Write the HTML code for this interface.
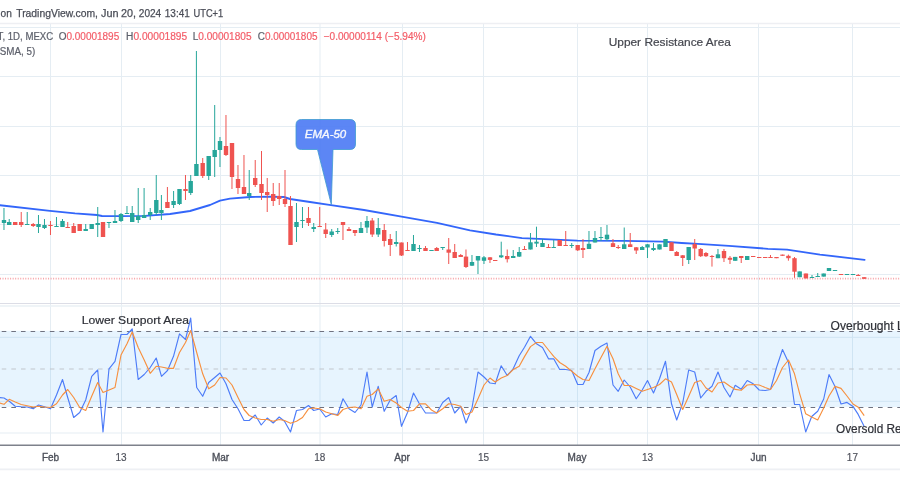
<!DOCTYPE html>
<html><head><meta charset="utf-8"><style>
html,body{margin:0;padding:0;background:#fff;}
body{width:900px;height:500px;overflow:hidden;position:relative;}
svg{position:absolute;left:0;top:0;will-change:transform;}
text{font-family:"Liberation Sans",sans-serif;}
.hdr{font-size:11px;fill:#4a4d57;stroke:#4a4d57;stroke-width:0.25;}
.lg{font-size:10px;fill:#5d606b;stroke:#5d606b;stroke-width:0.2;}
.rd{fill:#f35d68;stroke:#f35d68;}
.ax{font-size:10px;fill:#4d505a;stroke:#4d505a;stroke-width:0.15;}
.b{stroke-width:0.35;}
.note{font-size:11.5px;fill:#2f3138;stroke:#2f3138;stroke-width:0.2;}
.up{fill:#45474f;stroke:#45474f;}
</style></head><body>
<svg width="900" height="500" viewBox="0 0 900 500">
<line x1="50.5" y1="23" x2="50.5" y2="445" stroke="#e5edf3" stroke-width="1"/>
<line x1="121.5" y1="23" x2="121.5" y2="445" stroke="#e5edf3" stroke-width="1"/>
<line x1="220.5" y1="23" x2="220.5" y2="445" stroke="#e5edf3" stroke-width="1"/>
<line x1="320" y1="23" x2="320" y2="445" stroke="#e5edf3" stroke-width="1"/>
<line x1="402.5" y1="23" x2="402.5" y2="445" stroke="#e5edf3" stroke-width="1"/>
<line x1="483.5" y1="23" x2="483.5" y2="445" stroke="#e5edf3" stroke-width="1"/>
<line x1="577.5" y1="23" x2="577.5" y2="445" stroke="#e5edf3" stroke-width="1"/>
<line x1="647.5" y1="23" x2="647.5" y2="445" stroke="#e5edf3" stroke-width="1"/>
<line x1="758.5" y1="23" x2="758.5" y2="445" stroke="#e5edf3" stroke-width="1"/>
<line x1="852.5" y1="23" x2="852.5" y2="445" stroke="#e5edf3" stroke-width="1"/>
<line x1="0" y1="27.5" x2="900" y2="27.5" stroke="#e5edf3" stroke-width="1"/>
<line x1="0" y1="76.5" x2="900" y2="76.5" stroke="#e5edf3" stroke-width="1"/>
<line x1="0" y1="126.5" x2="900" y2="126.5" stroke="#e5edf3" stroke-width="1"/>
<line x1="0" y1="175.5" x2="900" y2="175.5" stroke="#e5edf3" stroke-width="1"/>
<line x1="0" y1="224.5" x2="900" y2="224.5" stroke="#e5edf3" stroke-width="1"/>
<line x1="0" y1="274.5" x2="900" y2="274.5" stroke="#e5edf3" stroke-width="1"/>
<line x1="0" y1="337.3" x2="900" y2="337.3" stroke="#e5edf3" stroke-width="1"/>
<line x1="0" y1="401.3" x2="900" y2="401.3" stroke="#e5edf3" stroke-width="1"/>
<line x1="0" y1="433.0" x2="900" y2="433.0" stroke="#e5edf3" stroke-width="1"/>
<rect x="0" y="330.8" width="900" height="76.2" fill="rgb(33,150,243)" fill-opacity="0.105"/>
<line x1="0" y1="306.1" x2="900" y2="306.1" stroke="#eaf0f5" stroke-width="1.5"/>
<line x1="0" y1="23.5" x2="900" y2="23.5" stroke="#eeeff3" stroke-width="1.7"/>
<line x1="0" y1="303.5" x2="900" y2="303.5" stroke="#dcdde6" stroke-width="1"/>
<line x1="0" y1="278.6" x2="900" y2="278.6" stroke="#f6a3a8" stroke-width="1.6" stroke-dasharray="1 1.53"/>
<polyline points="0.0,205.2 50.0,210.8 75.0,213.3 97.0,215.0 102.0,216.0 120.0,216.2 145.0,215.8 170.0,214.0 190.0,211.0 210.0,205.0 220.0,200.6 230.0,198.6 250.0,197.0 270.0,196.6 284.0,197.0 290.0,199.0 310.0,202.0 331.0,205.2 364.0,210.0 403.0,216.8 437.0,222.8 470.0,230.3 496.0,234.5 522.0,238.1 550.0,239.3 577.5,240.6 625.0,240.9 663.5,241.7 681.7,243.0 698.0,243.9 729.0,245.8 768.0,248.8 787.0,249.7 820.0,254.6 864.6,259.8" fill="none" stroke="#3366fa" stroke-width="1.85" stroke-linejoin="round" stroke-linecap="round"/>
<line x1="3.975" y1="208.0" x2="3.975" y2="230.0" stroke="#26a69a" stroke-width="1"/>
<rect x="1.8" y="220.0" width="4.4" height="3.0" fill="#26a69a"/>
<line x1="9.225" y1="219.0" x2="9.225" y2="225.0" stroke="#26a69a" stroke-width="1"/>
<rect x="7.0" y="222.0" width="4.4" height="3.0" fill="#26a69a"/>
<line x1="15.225" y1="222.0" x2="15.225" y2="225.0" stroke="#ef5350" stroke-width="1"/>
<rect x="13.0" y="222.0" width="4.4" height="3.0" fill="#ef5350"/>
<line x1="21.225" y1="212.0" x2="21.225" y2="227.0" stroke="#ef5350" stroke-width="1"/>
<rect x="19.0" y="222.0" width="4.4" height="3.0" fill="#ef5350"/>
<line x1="27.225" y1="212.0" x2="27.225" y2="225.0" stroke="#26a69a" stroke-width="1"/>
<rect x="25.0" y="224.0" width="4.4" height="1.0" fill="#26a69a"/>
<line x1="33.225" y1="223.0" x2="33.225" y2="227.0" stroke="#ef5350" stroke-width="1"/>
<rect x="31.0" y="224.0" width="4.4" height="2.0" fill="#ef5350"/>
<line x1="38.475" y1="215.0" x2="38.475" y2="233.0" stroke="#26a69a" stroke-width="1"/>
<rect x="36.3" y="224.0" width="4.4" height="3.0" fill="#26a69a"/>
<line x1="44.475" y1="219.0" x2="44.475" y2="229.0" stroke="#26a69a" stroke-width="1"/>
<rect x="42.3" y="225.0" width="4.4" height="3.0" fill="#26a69a"/>
<line x1="50.475" y1="221.0" x2="50.475" y2="235.0" stroke="#ef5350" stroke-width="1"/>
<rect x="48.3" y="225.0" width="4.4" height="1.0" fill="#ef5350"/>
<line x1="56.475" y1="217.0" x2="56.475" y2="227.0" stroke="#26a69a" stroke-width="1"/>
<rect x="54.3" y="226.0" width="4.4" height="1.0" fill="#26a69a"/>
<line x1="62.475" y1="219.0" x2="62.475" y2="227.0" stroke="#26a69a" stroke-width="1"/>
<rect x="60.3" y="221.0" width="4.4" height="6.0" fill="#26a69a"/>
<line x1="67.725" y1="222.0" x2="67.725" y2="228.0" stroke="#ef5350" stroke-width="1"/>
<rect x="65.5" y="227.0" width="4.4" height="1.0" fill="#ef5350"/>
<line x1="73.725" y1="223.0" x2="73.725" y2="233.0" stroke="#ef5350" stroke-width="1"/>
<rect x="71.5" y="226.0" width="4.4" height="7.0" fill="#ef5350"/>
<line x1="79.725" y1="224.0" x2="79.725" y2="231.0" stroke="#ef5350" stroke-width="1"/>
<rect x="77.5" y="224.0" width="4.4" height="7.0" fill="#ef5350"/>
<line x1="85.725" y1="224.0" x2="85.725" y2="231.0" stroke="#26a69a" stroke-width="1"/>
<rect x="83.5" y="229.0" width="4.4" height="2.0" fill="#26a69a"/>
<line x1="91.725" y1="224.0" x2="91.725" y2="229.0" stroke="#26a69a" stroke-width="1"/>
<rect x="89.5" y="224.0" width="4.4" height="5.0" fill="#26a69a"/>
<line x1="97.725" y1="207.0" x2="97.725" y2="237.0" stroke="#26a69a" stroke-width="1"/>
<rect x="95.5" y="223.0" width="4.4" height="2.0" fill="#26a69a"/>
<line x1="102.975" y1="222.0" x2="102.975" y2="237.0" stroke="#ef5350" stroke-width="1"/>
<rect x="100.8" y="222.0" width="4.4" height="15.0" fill="#ef5350"/>
<line x1="108.975" y1="222.0" x2="108.975" y2="228.0" stroke="#26a69a" stroke-width="1"/>
<rect x="106.8" y="222.0" width="4.4" height="1.0" fill="#26a69a"/>
<line x1="114.975" y1="210.0" x2="114.975" y2="222.0" stroke="#26a69a" stroke-width="1"/>
<rect x="112.8" y="221.0" width="4.4" height="2.0" fill="#26a69a"/>
<line x1="120.975" y1="213.0" x2="120.975" y2="222.0" stroke="#26a69a" stroke-width="1"/>
<rect x="118.8" y="214.0" width="4.4" height="7.0" fill="#26a69a"/>
<line x1="126.975" y1="206.0" x2="126.975" y2="214.0" stroke="#26a69a" stroke-width="1"/>
<rect x="124.8" y="213.0" width="4.4" height="1.0" fill="#26a69a"/>
<line x1="132.225" y1="206.0" x2="132.225" y2="222.0" stroke="#26a69a" stroke-width="1"/>
<rect x="130.0" y="213.0" width="4.4" height="9.0" fill="#26a69a"/>
<line x1="138.225" y1="188.0" x2="138.225" y2="223.0" stroke="#26a69a" stroke-width="1"/>
<rect x="136.0" y="216.0" width="4.4" height="4.0" fill="#26a69a"/>
<line x1="144.1" y1="188.0" x2="144.1" y2="218.0" stroke="#26a69a" stroke-width="1"/>
<rect x="141.9" y="215.0" width="4.4" height="3.0" fill="#26a69a"/>
<line x1="150.225" y1="208.0" x2="150.225" y2="220.0" stroke="#26a69a" stroke-width="1"/>
<rect x="148.0" y="212.0" width="4.4" height="3.0" fill="#26a69a"/>
<line x1="156.25" y1="175.0" x2="156.25" y2="215.0" stroke="#26a69a" stroke-width="1"/>
<rect x="154.1" y="200.0" width="4.4" height="13.0" fill="#26a69a"/>
<line x1="161.4" y1="195.0" x2="161.4" y2="220.0" stroke="#26a69a" stroke-width="1"/>
<rect x="159.2" y="210.0" width="4.4" height="3.0" fill="#26a69a"/>
<line x1="167.4" y1="187.0" x2="167.4" y2="208.0" stroke="#ef5350" stroke-width="1"/>
<rect x="165.2" y="202.0" width="4.4" height="6.0" fill="#ef5350"/>
<line x1="173.6" y1="191.0" x2="173.6" y2="208.0" stroke="#26a69a" stroke-width="1"/>
<rect x="171.4" y="201.0" width="4.4" height="4.0" fill="#26a69a"/>
<line x1="179.475" y1="189.0" x2="179.475" y2="205.0" stroke="#26a69a" stroke-width="1"/>
<rect x="177.3" y="189.0" width="4.4" height="15.0" fill="#26a69a"/>
<line x1="185.475" y1="175.0" x2="185.475" y2="200.0" stroke="#ef5350" stroke-width="1"/>
<rect x="183.3" y="189.0" width="4.4" height="2.0" fill="#ef5350"/>
<line x1="190.725" y1="175.0" x2="190.725" y2="195.0" stroke="#26a69a" stroke-width="1"/>
<rect x="188.5" y="181.0" width="4.4" height="12.0" fill="#26a69a"/>
<line x1="196.4" y1="51.0" x2="196.4" y2="176.0" stroke="#26a69a" stroke-width="1"/>
<rect x="194.2" y="164.0" width="4.4" height="12.0" fill="#26a69a"/>
<line x1="202.725" y1="158.0" x2="202.725" y2="178.0" stroke="#ef5350" stroke-width="1"/>
<rect x="200.5" y="163.0" width="4.4" height="13.0" fill="#ef5350"/>
<line x1="208.725" y1="156.0" x2="208.725" y2="180.0" stroke="#26a69a" stroke-width="1"/>
<rect x="206.5" y="156.0" width="4.4" height="20.0" fill="#26a69a"/>
<line x1="214.7" y1="105.0" x2="214.7" y2="177.0" stroke="#26a69a" stroke-width="1"/>
<rect x="212.5" y="150.0" width="4.4" height="7.0" fill="#26a69a"/>
<line x1="219.975" y1="137.0" x2="219.975" y2="167.0" stroke="#26a69a" stroke-width="1"/>
<rect x="217.8" y="141.0" width="4.4" height="9.0" fill="#26a69a"/>
<line x1="225.975" y1="115.0" x2="225.975" y2="156.0" stroke="#ef5350" stroke-width="1"/>
<rect x="223.8" y="146.0" width="4.4" height="9.0" fill="#ef5350"/>
<line x1="231.975" y1="143.0" x2="231.975" y2="189.0" stroke="#ef5350" stroke-width="1"/>
<rect x="229.8" y="143.0" width="4.4" height="34.0" fill="#ef5350"/>
<line x1="237.975" y1="165.0" x2="237.975" y2="194.0" stroke="#ef5350" stroke-width="1"/>
<rect x="235.8" y="179.0" width="4.4" height="9.0" fill="#ef5350"/>
<line x1="243.975" y1="155.0" x2="243.975" y2="194.0" stroke="#ef5350" stroke-width="1"/>
<rect x="241.8" y="187.0" width="4.4" height="7.0" fill="#ef5350"/>
<line x1="249.225" y1="170.0" x2="249.225" y2="200.0" stroke="#26a69a" stroke-width="1"/>
<rect x="247.0" y="193.0" width="4.4" height="3.0" fill="#26a69a"/>
<line x1="255.225" y1="160.0" x2="255.225" y2="187.0" stroke="#ef5350" stroke-width="1"/>
<rect x="253.0" y="178.0" width="4.4" height="7.0" fill="#ef5350"/>
<line x1="261.5" y1="151.0" x2="261.5" y2="200.0" stroke="#ef5350" stroke-width="1"/>
<rect x="259.3" y="184.0" width="4.4" height="9.0" fill="#ef5350"/>
<line x1="267.225" y1="178.0" x2="267.225" y2="212.0" stroke="#ef5350" stroke-width="1"/>
<rect x="265.0" y="192.0" width="4.4" height="3.0" fill="#ef5350"/>
<line x1="273.225" y1="183.0" x2="273.225" y2="206.0" stroke="#ef5350" stroke-width="1"/>
<rect x="271.0" y="194.0" width="4.4" height="7.0" fill="#ef5350"/>
<line x1="279.225" y1="183.0" x2="279.225" y2="205.0" stroke="#ef5350" stroke-width="1"/>
<rect x="277.0" y="196.0" width="4.4" height="3.0" fill="#ef5350"/>
<line x1="285.0" y1="170.0" x2="285.0" y2="207.0" stroke="#ef5350" stroke-width="1"/>
<rect x="282.8" y="199.0" width="4.4" height="5.0" fill="#ef5350"/>
<line x1="290.475" y1="196.0" x2="290.475" y2="245.0" stroke="#ef5350" stroke-width="1"/>
<rect x="288.3" y="206.0" width="4.4" height="39.0" fill="#ef5350"/>
<line x1="296.475" y1="203.0" x2="296.475" y2="242.0" stroke="#26a69a" stroke-width="1"/>
<rect x="294.3" y="222.0" width="4.4" height="5.0" fill="#26a69a"/>
<line x1="302.475" y1="207.0" x2="302.475" y2="228.0" stroke="#26a69a" stroke-width="1"/>
<rect x="300.3" y="220.0" width="4.4" height="1.0" fill="#26a69a"/>
<line x1="308.475" y1="207.0" x2="308.475" y2="226.0" stroke="#ef5350" stroke-width="1"/>
<rect x="306.3" y="218.0" width="4.4" height="5.0" fill="#ef5350"/>
<line x1="313.725" y1="223.0" x2="313.725" y2="232.0" stroke="#26a69a" stroke-width="1"/>
<rect x="311.5" y="227.0" width="4.4" height="2.0" fill="#26a69a"/>
<line x1="319.725" y1="207.0" x2="319.725" y2="226.0" stroke="#ef5350" stroke-width="1"/>
<rect x="317.5" y="226.0" width="4.4" height="1.0" fill="#ef5350"/>
<line x1="325.725" y1="223.0" x2="325.725" y2="238.0" stroke="#ef5350" stroke-width="1"/>
<rect x="323.5" y="229.5" width="4.4" height="4.5" fill="#ef5350"/>
<line x1="331.725" y1="229.0" x2="331.725" y2="237.0" stroke="#26a69a" stroke-width="1"/>
<rect x="329.5" y="231.5" width="4.4" height="3.5" fill="#26a69a"/>
<line x1="337.725" y1="228.0" x2="337.725" y2="234.0" stroke="#26a69a" stroke-width="1"/>
<rect x="335.5" y="231.0" width="4.4" height="1.0" fill="#26a69a"/>
<line x1="342.975" y1="222.0" x2="342.975" y2="240.0" stroke="#ef5350" stroke-width="1"/>
<rect x="340.8" y="222.0" width="4.4" height="3.0" fill="#ef5350"/>
<line x1="348.975" y1="227.0" x2="348.975" y2="231.0" stroke="#ef5350" stroke-width="1"/>
<rect x="346.8" y="229.0" width="4.4" height="2.0" fill="#ef5350"/>
<line x1="354.975" y1="230.0" x2="354.975" y2="236.0" stroke="#ef5350" stroke-width="1"/>
<rect x="352.8" y="230.0" width="4.4" height="3.0" fill="#ef5350"/>
<line x1="360.975" y1="222.0" x2="360.975" y2="233.0" stroke="#26a69a" stroke-width="1"/>
<rect x="358.8" y="228.0" width="4.4" height="5.0" fill="#26a69a"/>
<line x1="366.975" y1="216.0" x2="366.975" y2="233.0" stroke="#26a69a" stroke-width="1"/>
<rect x="364.8" y="221.0" width="4.4" height="6.5" fill="#26a69a"/>
<line x1="372.225" y1="218.0" x2="372.225" y2="237.0" stroke="#ef5350" stroke-width="1"/>
<rect x="370.0" y="220.5" width="4.4" height="14.0" fill="#ef5350"/>
<line x1="378.225" y1="218.0" x2="378.225" y2="237.0" stroke="#26a69a" stroke-width="1"/>
<rect x="376.0" y="228.0" width="4.4" height="6.5" fill="#26a69a"/>
<line x1="384.225" y1="224.0" x2="384.225" y2="246.5" stroke="#ef5350" stroke-width="1"/>
<rect x="382.0" y="230.0" width="4.4" height="11.0" fill="#ef5350"/>
<line x1="390.225" y1="234.0" x2="390.225" y2="256.0" stroke="#ef5350" stroke-width="1"/>
<rect x="388.0" y="239.0" width="4.4" height="6.0" fill="#ef5350"/>
<line x1="396.225" y1="231.0" x2="396.225" y2="246.5" stroke="#26a69a" stroke-width="1"/>
<rect x="394.0" y="242.0" width="4.4" height="2.0" fill="#26a69a"/>
<line x1="401.475" y1="242.5" x2="401.475" y2="256.0" stroke="#ef5350" stroke-width="1"/>
<rect x="399.3" y="242.5" width="4.4" height="13.0" fill="#ef5350"/>
<line x1="407.475" y1="242.0" x2="407.475" y2="251.0" stroke="#ef5350" stroke-width="1"/>
<rect x="405.3" y="250.0" width="4.4" height="1.0" fill="#ef5350"/>
<line x1="413.475" y1="235.0" x2="413.475" y2="251.0" stroke="#26a69a" stroke-width="1"/>
<rect x="411.3" y="244.0" width="4.4" height="7.0" fill="#26a69a"/>
<line x1="419.475" y1="245.0" x2="419.475" y2="252.0" stroke="#26a69a" stroke-width="1"/>
<rect x="417.3" y="248.0" width="4.4" height="1.0" fill="#26a69a"/>
<line x1="425.475" y1="246.0" x2="425.475" y2="251.0" stroke="#ef5350" stroke-width="1"/>
<rect x="423.3" y="248.0" width="4.4" height="3.0" fill="#ef5350"/>
<line x1="431.475" y1="250.0" x2="431.475" y2="251.0" stroke="#26a69a" stroke-width="1"/>
<rect x="429.3" y="250.0" width="4.4" height="1.0" fill="#26a69a"/>
<line x1="436.725" y1="247.0" x2="436.725" y2="251.0" stroke="#ef5350" stroke-width="1"/>
<rect x="434.5" y="248.0" width="4.4" height="3.0" fill="#ef5350"/>
<line x1="442.725" y1="247.0" x2="442.725" y2="250.0" stroke="#26a69a" stroke-width="1"/>
<rect x="440.5" y="247.0" width="4.4" height="1.0" fill="#26a69a"/>
<line x1="448.725" y1="238.0" x2="448.725" y2="264.0" stroke="#ef5350" stroke-width="1"/>
<rect x="446.5" y="249.5" width="4.4" height="3.2" fill="#ef5350"/>
<line x1="454.725" y1="244.0" x2="454.725" y2="258.0" stroke="#ef5350" stroke-width="1"/>
<rect x="452.5" y="252.0" width="4.4" height="6.0" fill="#ef5350"/>
<line x1="460.725" y1="254.0" x2="460.725" y2="257.0" stroke="#ef5350" stroke-width="1"/>
<rect x="458.5" y="255.0" width="4.4" height="2.0" fill="#ef5350"/>
<line x1="465.975" y1="249.5" x2="465.975" y2="268.0" stroke="#ef5350" stroke-width="1"/>
<rect x="463.8" y="256.6" width="4.4" height="10.4" fill="#ef5350"/>
<line x1="471.975" y1="255.0" x2="471.975" y2="266.0" stroke="#26a69a" stroke-width="1"/>
<rect x="469.8" y="262.0" width="4.4" height="3.7" fill="#26a69a"/>
<line x1="477.975" y1="256.0" x2="477.975" y2="274.0" stroke="#26a69a" stroke-width="1"/>
<rect x="475.8" y="256.0" width="4.4" height="4.5" fill="#26a69a"/>
<line x1="483.975" y1="256.0" x2="483.975" y2="264.0" stroke="#26a69a" stroke-width="1"/>
<rect x="481.8" y="257.3" width="4.4" height="3.5" fill="#26a69a"/>
<line x1="489.975" y1="257.0" x2="489.975" y2="263.0" stroke="#ef5350" stroke-width="1"/>
<rect x="487.8" y="257.3" width="4.4" height="2.6" fill="#ef5350"/>
<line x1="495.225" y1="260.0" x2="495.225" y2="261.0" stroke="#ef5350" stroke-width="1"/>
<rect x="493.0" y="260.0" width="4.4" height="1.0" fill="#ef5350"/>
<line x1="501.225" y1="241.7" x2="501.225" y2="258.0" stroke="#26a69a" stroke-width="1"/>
<rect x="499.0" y="255.3" width="4.4" height="2.0" fill="#26a69a"/>
<line x1="507.225" y1="249.5" x2="507.225" y2="262.5" stroke="#ef5350" stroke-width="1"/>
<rect x="505.0" y="256.0" width="4.4" height="3.2" fill="#ef5350"/>
<line x1="513.225" y1="250.0" x2="513.225" y2="258.0" stroke="#26a69a" stroke-width="1"/>
<rect x="511.0" y="256.0" width="4.4" height="2.0" fill="#26a69a"/>
<line x1="519.225" y1="247.0" x2="519.225" y2="257.0" stroke="#26a69a" stroke-width="1"/>
<rect x="517.0" y="252.0" width="4.4" height="4.6" fill="#26a69a"/>
<line x1="524.475" y1="246.0" x2="524.475" y2="250.0" stroke="#ef5350" stroke-width="1"/>
<rect x="522.3" y="249.0" width="4.4" height="1.0" fill="#ef5350"/>
<line x1="530.475" y1="233.0" x2="530.475" y2="249.5" stroke="#26a69a" stroke-width="1"/>
<rect x="528.3" y="242.3" width="4.4" height="7.2" fill="#26a69a"/>
<line x1="536.475" y1="226.7" x2="536.475" y2="247.0" stroke="#26a69a" stroke-width="1"/>
<rect x="534.3" y="241.7" width="4.4" height="1.9" fill="#26a69a"/>
<line x1="542.475" y1="239.0" x2="542.475" y2="247.0" stroke="#26a69a" stroke-width="1"/>
<rect x="540.3" y="243.0" width="4.4" height="4.0" fill="#26a69a"/>
<line x1="548.475" y1="244.0" x2="548.475" y2="248.0" stroke="#ef5350" stroke-width="1"/>
<rect x="546.3" y="247.0" width="4.4" height="1.0" fill="#ef5350"/>
<line x1="553.725" y1="240.0" x2="553.725" y2="248.0" stroke="#26a69a" stroke-width="1"/>
<rect x="551.5" y="247.0" width="4.4" height="1.0" fill="#26a69a"/>
<line x1="559.725" y1="240.0" x2="559.725" y2="246.0" stroke="#ef5350" stroke-width="1"/>
<rect x="557.5" y="240.0" width="4.4" height="6.0" fill="#ef5350"/>
<line x1="565.725" y1="231.0" x2="565.725" y2="246.0" stroke="#ef5350" stroke-width="1"/>
<rect x="563.5" y="245.0" width="4.4" height="1.0" fill="#ef5350"/>
<line x1="571.725" y1="243.0" x2="571.725" y2="248.0" stroke="#26a69a" stroke-width="1"/>
<rect x="569.5" y="245.0" width="4.4" height="1.0" fill="#26a69a"/>
<line x1="577.725" y1="245.0" x2="577.725" y2="251.0" stroke="#ef5350" stroke-width="1"/>
<rect x="575.5" y="245.0" width="4.4" height="5.3" fill="#ef5350"/>
<line x1="582.975" y1="239.0" x2="582.975" y2="258.0" stroke="#ef5350" stroke-width="1"/>
<rect x="580.8" y="248.0" width="4.4" height="2.0" fill="#ef5350"/>
<line x1="588.975" y1="231.0" x2="588.975" y2="249.0" stroke="#26a69a" stroke-width="1"/>
<rect x="586.8" y="243.8" width="4.4" height="5.2" fill="#26a69a"/>
<line x1="594.975" y1="231.0" x2="594.975" y2="242.5" stroke="#26a69a" stroke-width="1"/>
<rect x="592.8" y="238.0" width="4.4" height="4.5" fill="#26a69a"/>
<line x1="600.975" y1="227.0" x2="600.975" y2="241.0" stroke="#26a69a" stroke-width="1"/>
<rect x="598.8" y="237.0" width="4.4" height="1.0" fill="#26a69a"/>
<line x1="606.975" y1="225.0" x2="606.975" y2="241.0" stroke="#26a69a" stroke-width="1"/>
<rect x="604.8" y="234.7" width="4.4" height="4.6" fill="#26a69a"/>
<line x1="612.975" y1="239.0" x2="612.975" y2="247.0" stroke="#ef5350" stroke-width="1"/>
<rect x="610.8" y="243.2" width="4.4" height="3.8" fill="#ef5350"/>
<line x1="618.225" y1="245.0" x2="618.225" y2="249.0" stroke="#ef5350" stroke-width="1"/>
<rect x="616.0" y="247.0" width="4.4" height="1.0" fill="#ef5350"/>
<line x1="624.225" y1="227.5" x2="624.225" y2="249.0" stroke="#26a69a" stroke-width="1"/>
<rect x="622.0" y="244.3" width="4.4" height="4.7" fill="#26a69a"/>
<line x1="630.225" y1="233.0" x2="630.225" y2="247.0" stroke="#ef5350" stroke-width="1"/>
<rect x="628.0" y="244.3" width="4.4" height="2.7" fill="#ef5350"/>
<line x1="636.225" y1="247.0" x2="636.225" y2="254.0" stroke="#ef5350" stroke-width="1"/>
<rect x="634.0" y="247.3" width="4.4" height="3.2" fill="#ef5350"/>
<line x1="642.225" y1="246.0" x2="642.225" y2="250.0" stroke="#26a69a" stroke-width="1"/>
<rect x="640.0" y="247.0" width="4.4" height="3.0" fill="#26a69a"/>
<line x1="647.475" y1="244.0" x2="647.475" y2="258.0" stroke="#26a69a" stroke-width="1"/>
<rect x="645.3" y="244.3" width="4.4" height="3.2" fill="#26a69a"/>
<line x1="653.475" y1="243.0" x2="653.475" y2="251.0" stroke="#26a69a" stroke-width="1"/>
<rect x="651.3" y="248.0" width="4.4" height="2.0" fill="#26a69a"/>
<line x1="659.475" y1="244.3" x2="659.475" y2="249.5" stroke="#26a69a" stroke-width="1"/>
<rect x="657.3" y="244.3" width="4.4" height="5.2" fill="#26a69a"/>
<line x1="665.475" y1="239.0" x2="665.475" y2="247.0" stroke="#26a69a" stroke-width="1"/>
<rect x="663.3" y="239.0" width="4.4" height="8.0" fill="#26a69a"/>
<line x1="671.475" y1="242.3" x2="671.475" y2="251.0" stroke="#ef5350" stroke-width="1"/>
<rect x="669.3" y="242.3" width="4.4" height="8.7" fill="#ef5350"/>
<line x1="676.725" y1="251.0" x2="676.725" y2="256.0" stroke="#ef5350" stroke-width="1"/>
<rect x="674.5" y="252.0" width="4.4" height="4.0" fill="#ef5350"/>
<line x1="682.725" y1="255.0" x2="682.725" y2="266.0" stroke="#ef5350" stroke-width="1"/>
<rect x="680.5" y="255.3" width="4.4" height="2.7" fill="#ef5350"/>
<line x1="688.725" y1="247.0" x2="688.725" y2="264.0" stroke="#26a69a" stroke-width="1"/>
<rect x="686.5" y="247.0" width="4.4" height="13.0" fill="#26a69a"/>
<line x1="694.725" y1="239.0" x2="694.725" y2="260.0" stroke="#ef5350" stroke-width="1"/>
<rect x="692.5" y="244.0" width="4.4" height="4.5" fill="#ef5350"/>
<line x1="700.725" y1="248.0" x2="700.725" y2="257.0" stroke="#ef5350" stroke-width="1"/>
<rect x="698.5" y="249.0" width="4.4" height="7.2" fill="#ef5350"/>
<line x1="705.975" y1="252.0" x2="705.975" y2="257.0" stroke="#ef5350" stroke-width="1"/>
<rect x="703.8" y="253.0" width="4.4" height="3.2" fill="#ef5350"/>
<line x1="711.975" y1="255.0" x2="711.975" y2="266.6" stroke="#ef5350" stroke-width="1"/>
<rect x="709.8" y="256.0" width="4.4" height="1.0" fill="#ef5350"/>
<line x1="717.975" y1="249.0" x2="717.975" y2="258.2" stroke="#26a69a" stroke-width="1"/>
<rect x="715.8" y="254.3" width="4.4" height="3.9" fill="#26a69a"/>
<line x1="723.975" y1="249.0" x2="723.975" y2="262.0" stroke="#ef5350" stroke-width="1"/>
<rect x="721.8" y="251.0" width="4.4" height="7.2" fill="#ef5350"/>
<line x1="729.975" y1="256.0" x2="729.975" y2="264.0" stroke="#ef5350" stroke-width="1"/>
<rect x="727.8" y="257.8" width="4.4" height="2.0" fill="#ef5350"/>
<line x1="735.225" y1="256.9" x2="735.225" y2="260.8" stroke="#26a69a" stroke-width="1"/>
<rect x="733.0" y="256.9" width="4.4" height="3.9" fill="#26a69a"/>
<line x1="741.225" y1="256.0" x2="741.225" y2="263.0" stroke="#ef5350" stroke-width="1"/>
<rect x="739.0" y="256.0" width="4.4" height="2.0" fill="#ef5350"/>
<line x1="747.225" y1="256.0" x2="747.225" y2="260.0" stroke="#26a69a" stroke-width="1"/>
<rect x="745.0" y="256.0" width="4.4" height="4.0" fill="#26a69a"/>
<line x1="753.225" y1="256.0" x2="753.225" y2="257.0" stroke="#ef5350" stroke-width="1"/>
<rect x="751.0" y="256.0" width="4.4" height="1.0" fill="#ef5350"/>
<line x1="759.225" y1="257.0" x2="759.225" y2="258.0" stroke="#ef5350" stroke-width="1"/>
<rect x="757.0" y="257.0" width="4.4" height="1.0" fill="#ef5350"/>
<line x1="765.225" y1="257.0" x2="765.225" y2="258.0" stroke="#ef5350" stroke-width="1"/>
<rect x="763.0" y="257.0" width="4.4" height="1.0" fill="#ef5350"/>
<line x1="770.475" y1="255.0" x2="770.475" y2="258.0" stroke="#ef5350" stroke-width="1"/>
<rect x="768.3" y="257.0" width="4.4" height="1.0" fill="#ef5350"/>
<line x1="776.475" y1="257.0" x2="776.475" y2="258.2" stroke="#ef5350" stroke-width="1"/>
<rect x="774.3" y="257.0" width="4.4" height="1.2" fill="#ef5350"/>
<line x1="782.475" y1="254.6" x2="782.475" y2="255.8" stroke="#ef5350" stroke-width="1"/>
<rect x="780.3" y="254.6" width="4.4" height="1.2" fill="#ef5350"/>
<line x1="788.4" y1="254.6" x2="788.4" y2="260.7" stroke="#ef5350" stroke-width="1"/>
<rect x="786.2" y="255.8" width="4.4" height="2.4" fill="#ef5350"/>
<line x1="794.5" y1="257.0" x2="794.5" y2="277.8" stroke="#ef5350" stroke-width="1"/>
<rect x="792.3" y="258.2" width="4.4" height="13.5" fill="#ef5350"/>
<line x1="799.75" y1="271.4" x2="799.75" y2="277.2" stroke="#26a69a" stroke-width="1"/>
<rect x="797.5" y="271.4" width="4.4" height="5.8" fill="#26a69a"/>
<line x1="805.9" y1="273.5" x2="805.9" y2="278.4" stroke="#ef5350" stroke-width="1"/>
<rect x="803.7" y="273.5" width="4.4" height="4.9" fill="#ef5350"/>
<line x1="812.0" y1="275.0" x2="812.0" y2="278.0" stroke="#26a69a" stroke-width="1"/>
<rect x="809.8" y="277.0" width="4.4" height="1.0" fill="#26a69a"/>
<line x1="817.725" y1="273.0" x2="817.725" y2="277.0" stroke="#26a69a" stroke-width="1"/>
<rect x="815.5" y="276.0" width="4.4" height="1.0" fill="#26a69a"/>
<line x1="823.725" y1="273.5" x2="823.725" y2="276.6" stroke="#26a69a" stroke-width="1"/>
<rect x="821.5" y="273.5" width="4.4" height="3.1" fill="#26a69a"/>
<line x1="828.975" y1="268.0" x2="828.975" y2="271.0" stroke="#26a69a" stroke-width="1"/>
<rect x="826.8" y="268.0" width="4.4" height="3.0" fill="#26a69a"/>
<line x1="834.975" y1="270.0" x2="834.975" y2="271.0" stroke="#26a69a" stroke-width="1"/>
<rect x="832.8" y="270.0" width="4.4" height="1.0" fill="#26a69a"/>
<line x1="840.975" y1="274.0" x2="840.975" y2="275.0" stroke="#ef5350" stroke-width="1"/>
<rect x="838.8" y="274.0" width="4.4" height="1.0" fill="#ef5350"/>
<line x1="846.975" y1="274.0" x2="846.975" y2="275.0" stroke="#26a69a" stroke-width="1"/>
<rect x="844.8" y="274.0" width="4.4" height="1.0" fill="#26a69a"/>
<line x1="852.975" y1="274.0" x2="852.975" y2="275.0" stroke="#26a69a" stroke-width="1"/>
<rect x="850.8" y="274.0" width="4.4" height="1.0" fill="#26a69a"/>
<line x1="858.225" y1="274.0" x2="858.225" y2="276.0" stroke="#ef5350" stroke-width="1"/>
<rect x="856.0" y="275.0" width="4.4" height="1.0" fill="#ef5350"/>
<line x1="864.225" y1="277.2" x2="864.225" y2="278.8" stroke="#ef5350" stroke-width="1"/>
<rect x="862.0" y="277.2" width="4.4" height="1.6" fill="#ef5350"/>
<path d="M301.5,119.5 H350 Q355.5,119.5 355.5,125 V144 Q355.5,149.5 350,149.5 H333 L331.3,204.5 L317.5,149.5 H301.5 Q296,149.5 296,144 V125 Q296,119.5 301.5,119.5 Z" fill="#4a79f4" fill-opacity="0.9" stroke="#3d9ad1" stroke-width="0.8"/>
<text x="325.5" y="138.3" text-anchor="middle" font-family="Liberation Sans" font-style="italic" font-size="11.5" fill="#f8f9fd" stroke="#f8f9fd" stroke-width="0.35">EMA-50</text>
<line x1="0" y1="331.5" x2="900" y2="331.5" stroke="#6f7280" stroke-width="1.2" stroke-dasharray="4.6 5.03" stroke-dashoffset="-1.7"/>
<line x1="0" y1="369" x2="900" y2="369" stroke="#c2c5cc" stroke-width="1.2" stroke-dasharray="4.6 5.03" stroke-dashoffset="-1.7"/>
<line x1="0" y1="407.5" x2="900" y2="407.5" stroke="#6f7280" stroke-width="1.2" stroke-dasharray="4.6 5.03" stroke-dashoffset="-1.7"/>
<polyline points="-2.0,397.5 4.0,398.0 9.2,401.3 15.2,406.3 21.2,406.8 27.2,407.0 33.2,408.8 38.5,405.0 44.5,406.8 50.5,408.8 56.5,395.0 62.5,379.5 67.7,397.5 73.7,417.5 79.7,412.5 85.7,400.0 91.7,376.3 97.7,370.0 103.0,432.0 109.0,368.8 115.0,361.3 121.0,334.5 127.0,334.5 132.2,328.8 138.2,379.5 144.2,374.5 150.2,367.5 156.2,358.0 161.5,376.3 167.5,370.5 173.5,356.3 179.5,333.8 185.5,339.5 190.7,318.0 196.7,387.5 202.7,396.3 208.7,382.5 214.7,377.5 220.0,373.0 226.0,383.8 232.0,399.5 238.0,408.8 244.0,420.5 249.2,420.5 255.2,415.0 261.2,425.0 267.2,418.0 273.2,423.0 279.2,417.0 284.5,421.3 290.5,432.0 296.5,410.5 302.5,409.5 308.5,405.5 313.7,410.5 319.7,409.0 325.7,417.0 331.7,413.8 337.7,414.5 343.0,398.8 349.0,408.8 355.0,412.5 361.0,405.0 367.0,372.0 372.2,407.0 378.2,386.3 384.2,411.3 390.2,400.0 396.2,395.5 401.5,426.3 407.5,412.5 413.5,393.0 419.5,404.0 425.5,413.0 431.5,413.0 436.7,413.0 442.7,402.5 448.7,397.5 454.7,413.0 460.7,406.3 466.0,423.0 472.0,408.0 478.0,372.0 484.0,377.0 490.0,383.0 495.2,383.8 501.2,365.8 507.2,375.5 513.2,368.8 519.2,355.8 524.5,347.3 530.5,336.3 536.5,343.8 542.5,347.5 548.5,358.8 553.7,358.8 559.7,369.5 565.7,369.5 571.7,370.5 577.7,384.5 583.0,384.5 589.0,372.5 595.0,350.5 601.0,346.3 607.0,343.0 613.0,385.0 618.2,391.3 624.2,380.0 630.2,387.0 636.2,398.8 642.2,390.0 647.5,380.5 653.5,393.0 659.5,378.8 665.5,361.3 671.5,403.8 676.7,420.0 682.7,403.0 688.7,370.0 694.7,372.0 700.7,398.0 706.0,391.3 712.0,386.3 718.0,372.0 724.0,387.5 730.0,397.0 735.2,385.3 741.2,389.2 747.2,380.5 753.2,383.8 759.2,390.0 765.2,390.5 770.5,389.5 776.5,367.5 782.5,349.5 788.5,362.5 794.5,404.5 799.7,404.5 805.7,432.0 811.7,416.5 817.7,411.2 823.7,399.0 829.0,374.6 835.0,386.5 841.0,404.0 847.0,402.4 853.0,406.4 858.2,414.4 864.2,426.4" fill="none" stroke="#4d7cf8" stroke-width="1.15" stroke-linejoin="round"/>
<polyline points="-2.0,402.5 4.0,404.3 9.2,399.3 15.2,402.0 21.2,404.5 27.2,405.8 33.2,407.0 38.5,406.3 44.5,407.0 50.5,407.5 56.5,403.8 62.5,395.0 67.7,389.5 73.7,397.5 79.7,407.5 85.7,410.5 91.7,396.3 97.7,382.5 103.0,392.5 109.0,390.0 115.0,387.5 121.0,355.0 127.0,343.8 132.2,332.0 138.2,347.5 144.2,360.0 150.2,373.3 156.2,366.3 161.5,367.0 167.5,368.3 173.5,368.3 179.5,352.5 185.5,342.5 190.7,330.5 196.7,352.5 202.7,373.8 208.7,388.8 214.7,385.0 220.0,377.5 226.0,378.0 232.0,385.0 238.0,397.5 244.0,409.5 249.2,415.5 255.2,418.0 261.2,419.5 267.2,419.5 273.2,421.3 279.2,419.5 284.5,420.5 290.5,423.3 296.5,421.3 302.5,417.5 308.5,408.8 313.7,408.0 319.7,408.8 325.7,412.0 331.7,413.8 337.7,415.5 343.0,409.5 349.0,407.5 355.0,407.0 361.0,408.8 367.0,396.3 372.2,394.5 378.2,388.8 384.2,401.3 390.2,399.5 396.2,403.0 401.5,407.5 407.5,411.3 413.5,410.5 419.5,403.8 425.5,403.8 431.5,410.0 436.7,413.0 442.7,408.8 448.7,403.8 454.7,404.5 460.7,406.3 466.0,414.5 472.0,412.0 478.0,398.8 484.0,385.0 490.0,378.0 495.2,382.0 501.2,378.0 507.2,375.5 513.2,369.5 519.2,366.3 524.5,356.6 530.5,346.6 536.5,342.5 542.5,342.5 548.5,350.0 553.7,356.3 559.7,362.5 565.7,366.3 571.7,371.3 577.7,376.3 583.0,379.5 589.0,380.5 595.0,368.8 601.0,357.5 607.0,346.3 613.0,358.8 618.2,373.8 624.2,385.5 630.2,385.5 636.2,388.4 642.2,391.3 647.5,389.5 653.5,387.5 659.5,384.5 665.5,378.8 671.5,382.0 676.7,394.5 682.7,409.5 688.7,396.3 694.7,382.5 700.7,380.5 706.0,388.0 712.0,392.0 718.0,383.0 724.0,382.0 730.0,386.3 735.2,389.4 741.2,390.3 747.2,385.0 753.2,384.5 759.2,385.0 765.2,387.5 770.5,389.5 776.5,380.5 782.5,367.5 788.5,360.0 794.5,373.8 799.7,393.8 805.7,413.8 811.7,417.0 817.7,420.0 823.7,408.0 829.0,396.0 835.0,386.4 841.0,388.4 847.0,396.0 853.0,404.0 858.2,407.2 864.2,415.7" fill="none" stroke="#f7903f" stroke-width="1.15" stroke-linejoin="round"/>
<line x1="0" y1="445.3" x2="900" y2="445.3" stroke="#7e818b" stroke-width="1.5"/>
<line x1="0" y1="469.3" x2="900" y2="469.3" stroke="#eef0f4" stroke-width="1.7"/>
<text x="0.5" y="16.7" class="hdr" textLength="11.3" lengthAdjust="spacingAndGlyphs">on</text><text x="16.2" y="16.7" class="hdr" textLength="81.8" lengthAdjust="spacingAndGlyphs">TradingView.com,</text><text x="101.0" y="16.7" class="hdr" textLength="17.5" lengthAdjust="spacingAndGlyphs">Jun</text><text x="121.0" y="16.7" class="hdr" textLength="15.0" lengthAdjust="spacingAndGlyphs">20,</text><text x="138.8" y="16.7" class="hdr" textLength="22.4" lengthAdjust="spacingAndGlyphs">2024</text><text x="164.8" y="16.7" class="hdr" textLength="25.0" lengthAdjust="spacingAndGlyphs">13:41</text><text x="193.5" y="16.7" class="hdr" textLength="29.7" lengthAdjust="spacingAndGlyphs">UTC+1</text>
<text x="-2.4" y="39.8" class="lg" textLength="55.6" lengthAdjust="spacingAndGlyphs">T, 1D, MEXC</text>
<text x="58.7" y="39.8" class="lg" textLength="60.5" lengthAdjust="spacingAndGlyphs">O<tspan class="rd">0.00001895</tspan></text>
<text x="126.1" y="39.8" class="lg" textLength="61.1" lengthAdjust="spacingAndGlyphs">H<tspan class="rd">0.00001895</tspan></text>
<text x="192.7" y="39.8" class="lg" textLength="58.8" lengthAdjust="spacingAndGlyphs">L<tspan class="rd">0.00001805</tspan></text>
<text x="257.7" y="39.8" class="lg" textLength="59.8" lengthAdjust="spacingAndGlyphs">C<tspan class="rd">0.00001805</tspan></text>
<text x="323.7" y="39.8" class="lg" textLength="102.1" lengthAdjust="spacingAndGlyphs"><tspan class="rd">−0.00000114 (−5.94%)</tspan></text>
<text x="-0.3" y="54.6" class="lg" textLength="35.5" lengthAdjust="spacingAndGlyphs">SMA, 5)</text>
<text x="608.7" y="45.5" class="note up" textLength="122.3" lengthAdjust="spacingAndGlyphs">Upper Resistance Area</text>
<text x="81.7" y="324" class="note" textLength="107.2" lengthAdjust="spacingAndGlyphs">Lower Support Area</text>
<text x="830.6" y="329.8" class="note" style="font-size:11.9px" textLength="95.2" lengthAdjust="spacingAndGlyphs">Overbought Level</text>
<text x="836.0" y="432.8" class="note" style="font-size:11.9px" textLength="88.0" lengthAdjust="spacingAndGlyphs">Oversold Region</text>
<text x="50.5" y="460.5" text-anchor="middle" class="ax b">Feb</text>
<text x="121" y="460.5" text-anchor="middle" class="ax">13</text>
<text x="220.5" y="460.5" text-anchor="middle" class="ax b">Mar</text>
<text x="319.8" y="460.5" text-anchor="middle" class="ax">18</text>
<text x="402" y="460.5" text-anchor="middle" class="ax b">Apr</text>
<text x="483.5" y="460.5" text-anchor="middle" class="ax">15</text>
<text x="577" y="460.5" text-anchor="middle" class="ax b">May</text>
<text x="647.5" y="460.5" text-anchor="middle" class="ax">13</text>
<text x="758.5" y="460.5" text-anchor="middle" class="ax b">Jun</text>
<text x="852.4" y="460.5" text-anchor="middle" class="ax">17</text>
</svg>
</body></html>
